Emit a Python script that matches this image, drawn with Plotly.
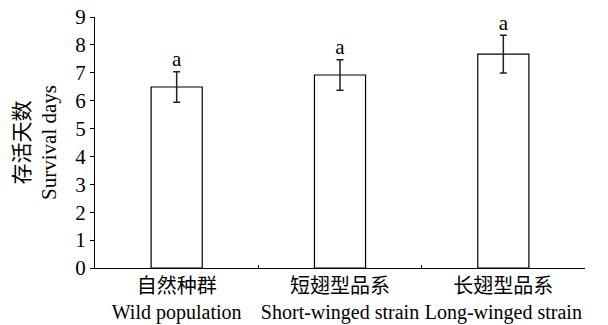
import plotly.graph_objects as go

categories_cn = ["自然种群", "短翅型品系", "长翅型品系"]
categories_en = ["Wild population", "Short-winged strain", "Long-winged strain"]
values = [6.49, 6.92, 7.67]
errors = [0.55, 0.55, 0.68]
letters = ["a", "a", "a"]
y_ticks = [0, 1, 2, 3, 4, 5, 6, 7, 8, 9]

FONT = "Times New Roman, Liberation Serif, Noto Sans CJK SC, serif"

categories = [f"{c}<br><span style='font-size:20px'>{e}</span>" for c, e in zip(categories_cn, categories_en)]

fig = go.Figure()
fig.add_trace(go.Bar(
    x=categories, y=values,
    marker=dict(color="white", line=dict(color="black", width=1.2)),
    error_y=dict(type="data", array=errors, visible=True, color="#222222", thickness=1.5, width=3.5),
    showlegend=False,
))
fig.add_trace(go.Scatter(
    x=categories, y=[v + e for v, e in zip(values, errors)],
    mode="text", text=letters, textposition="top center",
    textfont=dict(family=FONT, size=21, color="black"),
    showlegend=False, cliponaxis=False,
))
fig.update_layout(
    width=608, height=325,
    margin=dict(l=95, r=23, t=17, b=57),
    paper_bgcolor="white", plot_bgcolor="white",
    bargap=0.687,
    font=dict(family=FONT, size=21, color="black"),
    xaxis=dict(
        showline=True, linecolor="black", linewidth=1.2,
        ticks="inside", tickson="boundaries", ticklen=3, tickcolor="black",
        showgrid=False, tickfont=dict(family=FONT, size=20),
        tickangle=0, automargin=False,
    ),
    yaxis=dict(
        range=[0, 9], tickvals=y_ticks,
        showline=True, linecolor="black", linewidth=1.2,
        ticks="outside", ticklen=4, tickcolor="black",
        showgrid=False, zeroline=False, automargin=False,
        tickfont=dict(family=FONT, size=21),
        title=dict(text="存活天数<br>Survival days", font=dict(family=FONT, size=21), standoff=12),
    ),
)
fig.write_html("out.html", config={"displayModeBar": False},
               post_script="document.body.style.margin='0';")
